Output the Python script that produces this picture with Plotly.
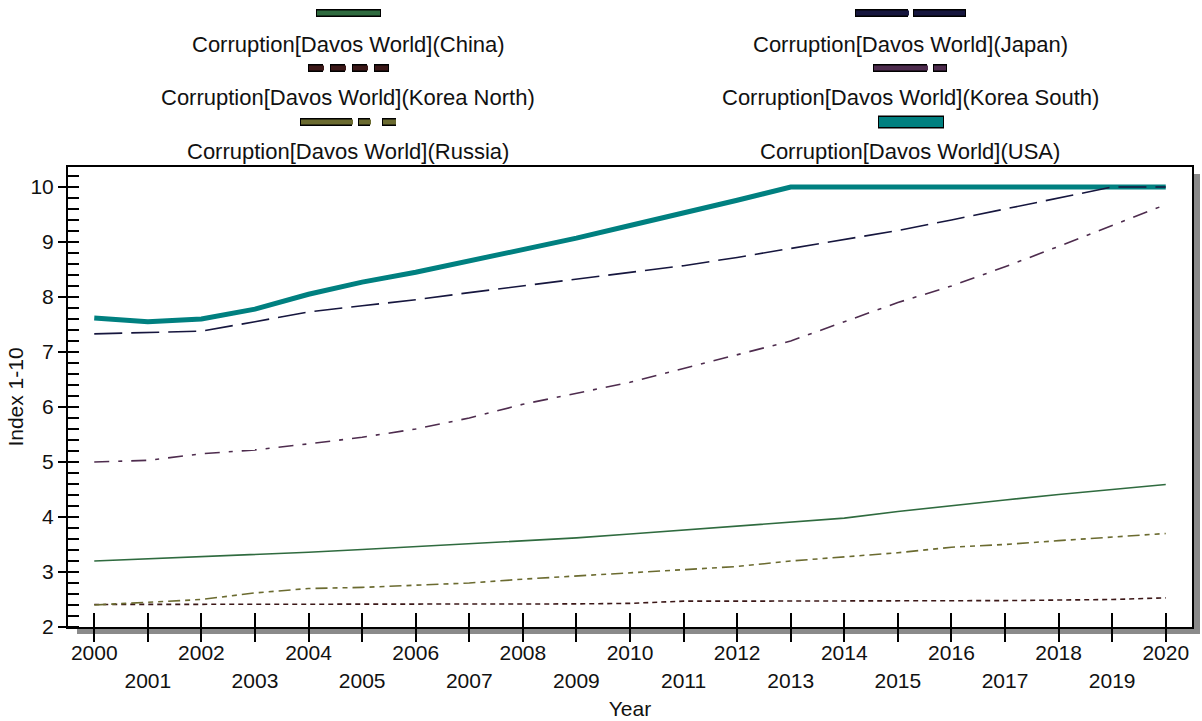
import plotly.graph_objects as go

years = list(range(2000, 2021))
china = [3.20, 3.24, 3.27, 3.32, 3.36, 3.41, 3.46, 3.51, 3.56, 3.62, 3.69,
         3.76, 3.83, 3.90, 3.98, 4.10, 4.21, 4.31, 4.41, 4.50, 4.59]
japan = [7.33, 7.36, 7.38, 7.55, 7.73, 7.84, 7.95, 8.08, 8.20, 8.33, 8.45,
         8.57, 8.72, 8.88, 9.04, 9.21, 9.40, 9.60, 9.80, 10.0, 10.0]
korea_north = [2.41, 2.41, 2.41, 2.41, 2.42, 2.42, 2.42, 2.42, 2.42, 2.42, 2.43,
               2.47, 2.47, 2.47, 2.47, 2.48, 2.48, 2.48, 2.49, 2.50, 2.53]
korea_south = [5.00, 5.03, 5.15, 5.22, 5.33, 5.45, 5.60, 5.80, 6.05, 6.25, 6.45,
               6.70, 6.95, 7.20, 7.55, 7.90, 8.20, 8.55, 8.92, 9.30, 9.68]
russia = [2.40, 2.45, 2.50, 2.62, 2.70, 2.72, 2.76, 2.80, 2.87, 2.93, 2.98,
          3.04, 3.10, 3.20, 3.27, 3.35, 3.45, 3.50, 3.57, 3.64, 3.70]
usa = [7.62, 7.55, 7.60, 7.78, 8.05, 8.27, 8.45, 8.65, 8.85, 9.07, 9.30,
       9.52, 9.76, 10.0, 10.0, 10.0, 10.0, 10.0, 10.0, 10.0, 10.0]

names = ["Corruption[Davos World](China)", "Corruption[Davos World](Japan)",
         "Corruption[Davos World](Korea North)", "Corruption[Davos World](Korea South)",
         "Corruption[Davos World](Russia)", "Corruption[Davos World](USA)"]

FONT = "Liberation Sans, Arial, sans-serif"

series = [
    # name, values, color, width, dash, legend col, legend row, sample dash, sample width
    (names[5], usa, "#008080", 5, "solid", 1, 2, "solid", 11),
    (names[0], china, "#2f6b3f", 1.6, "solid", 0, 0, "solid", 6),
    (names[2], korea_north, "#3c1818", 1.6, "5px,4px", 0, 1, "15px,7px", 6),
    (names[4], russia, "#6b6b30", 1.6, "12px,5px,5px,5px,5px,5px", 0, 2, "52px,6px,12px,12px,14px,40px", 6),
    (names[3], korea_south, "#4e2c4e", 1.6, "15px,9px,4px,9px", 1, 1, "54px,6px,14px,30px", 6),
    (names[1], japan, "#16163e", 1.6, "28px,9px", 1, 0, "53px,5px", 6),
]

fig = go.Figure()
for name, vals, color, w, dash, *_ in series:
    fig.add_trace(go.Scatter(x=years, y=vals, mode="lines", name=name,
                             line=dict(color=color, width=w, dash=dash),
                             showlegend=False))

# empty traces to bind overlay axes
fig.add_trace(go.Scatter(x=[], y=[], xaxis="x2", yaxis="y", showlegend=False, hoverinfo="skip"))
fig.add_trace(go.Scatter(x=[], y=[], xaxis="x", yaxis="y2", showlegend=False, hoverinfo="skip"))

W, H = 1202, 721
L, R, T, B = 68, 10, 167, 94
PW, PH = W - L - R, H - T - B

def px(xp):
    return (xp - L) / PW

def py(yp):
    return (H - B - yp) / PH

XR = [1999.51, 2020.49]
YR = [2, 10.364]

even_text = [str(y) if y % 2 == 0 else "" for y in years]
odd_text = [str(y) if y % 2 == 1 else "" for y in years]

fig.update_layout(
    width=W, height=H,
    margin=dict(l=L, r=R, t=T, b=B, autoexpand=False),
    paper_bgcolor="white", plot_bgcolor="white",
    font=dict(family=FONT, size=21, color="#111"),
    xaxis=dict(range=XR, tickmode="array", tickvals=years, ticktext=even_text,
               ticks="outside", ticklen=13, tickwidth=1.5, tickcolor="black",
               showline=True, linecolor="black", linewidth=2, mirror=True,
               showgrid=False, zeroline=False, ticklabelstandoff=-7, automargin=False,
               title=dict(text="Year", standoff=38, font=dict(size=21)),
               tickfont=dict(size=21)),
    xaxis2=dict(range=XR, overlaying="x", anchor="y", side="bottom",
                tickmode="array", tickvals=years, ticktext=odd_text,
                ticks="inside", ticklen=14, tickwidth=1.5, tickcolor="black",
                showline=False, showgrid=False, zeroline=False, automargin=False,
                ticklabelstandoff=39, tickfont=dict(size=21)),
    yaxis=dict(range=YR, tickmode="array", tickvals=list(range(2, 11)),
               ticks="outside", ticklen=8, tickwidth=1.5, tickcolor="black",
               minor=dict(ticks="inside", tickmode="linear", tick0=2, dtick=0.2,
                          ticklen=11, tickwidth=1.5, tickcolor="black", showgrid=False),
               showline=True, linecolor="black", linewidth=2, mirror=True,
               showgrid=False, zeroline=False, ticklabelstandoff=0, automargin=False,
               title=dict(text="Index 1-10", standoff=1, font=dict(size=21)),
               tickfont=dict(size=21)),
    yaxis2=dict(range=YR, overlaying="y", anchor="x", side="left",
                tickmode="array", tickvals=list(range(2, 11)),
                ticks="inside", ticklen=11, tickwidth=1.5, tickcolor="black",
                showticklabels=False, showline=False, showgrid=False, zeroline=False,
                automargin=False),
)

shapes = []
# drop shadow of the frame
shapes.append(dict(type="rect", xref="paper", yref="paper", layer="below",
                   x0=px(L + 9), x1=px(W - R + 8), y0=py(H - B + 7), y1=py(H - B + 1),
                   fillcolor="#8a8a8a", line=dict(width=0)))
shapes.append(dict(type="rect", xref="paper", yref="paper", layer="below",
                   x0=px(W - R + 1), x1=px(W - R + 8), y0=py(H - B + 7), y1=py(T + 7),
                   fillcolor="#8a8a8a", line=dict(width=0)))

# custom legend: sample line above centered text, two columns, three rows
col_cx = [348, 910]
sample_y = [13, 68, 122]
text_y = [44, 97, 151]
sample_x = {
    names[0]: (316, 381), names[2]: (308, 389), names[4]: (300, 397),
    names[1]: (855, 966), names[3]: (873, 947), names[5]: (878, 944),
}
annotations = []
for name, vals, color, w, dash, col, row, sdash, sw in series:
    x0, x1 = sample_x[name]
    yy = py(sample_y[row])
    shapes.append(dict(type="line", xref="paper", yref="paper",
                       x0=px(x0), x1=px(x1), y0=yy, y1=yy,
                       line=dict(color="black", width=sw + 2, dash=sdash)))
    shapes.append(dict(type="line", xref="paper", yref="paper",
                       x0=px(x0 + 1), x1=px(x1 - 1), y0=yy, y1=yy,
                       line=dict(color=color, width=sw - 1, dash=sdash)))
    annotations.append(dict(text=name, xref="paper", yref="paper",
                            x=px(col_cx[col]), y=py(text_y[row]),
                            xanchor="center", yanchor="middle", showarrow=False,
                            font=dict(family=FONT, size=22, color="#111")))

fig.update_layout(shapes=shapes, annotations=annotations)
fig.write_html("out.html",
               config={"displayModeBar": False},
               post_script="document.body.style.margin='0';"
                           "document.body.style.overflow='hidden';")
